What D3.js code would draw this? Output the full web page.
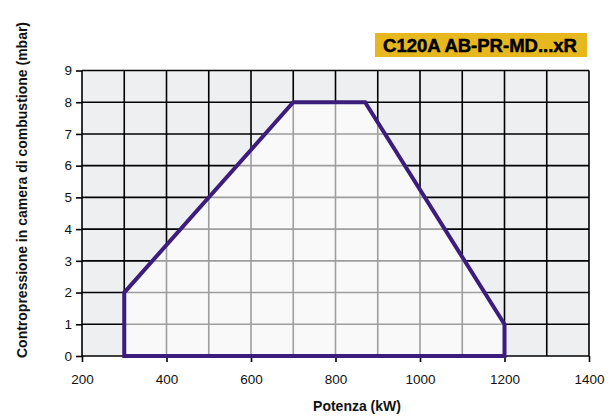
<!DOCTYPE html>
<html><head><meta charset="utf-8">
<script src="https://cdn.jsdelivr.net/npm/d3@7"></script>
<style>body{margin:0;background:#fff}svg{display:block;font-family:"Liberation Sans",Arial,sans-serif}</style>
</head><body><svg id="c" width="613" height="419"></svg>
<script>
const title = "C120A AB-PR-MD...xR";
const xLabel = "Potenza (kW)";
const yLabel = "Contropressione in camera di combustione (mbar)";
const xTicks = [200, 400, 600, 800, 1000, 1200, 1400];
const yTicks = [0, 1, 2, 3, 4, 5, 6, 7, 8, 9];
const xGrid = [200, 300, 400, 500, 600, 700, 800, 900, 1000, 1100, 1200, 1300, 1400];
const powerKW = [300, 300, 700, 870, 1200, 1200];
const pressureMbar = [0, 2, 8, 8, 1, 0];

const svg = d3.select("#c");
const L = 82, R = 589, T = 70.5, B = 356;
const x = d3.scaleLinear().domain([200, 1400]).range([L, R]);
const y = d3.scaleLinear().domain([0, 9]).range([B, T]);

svg.append("rect").attr("x", L).attr("y", T).attr("width", R - L).attr("height", B - T).attr("fill", "#eeeff1");

const g = svg.append("g");
g.selectAll(".vg").data(xGrid).join("line")
  .attr("x1", d => x(d)).attr("x2", d => x(d)).attr("y1", T).attr("y2", B)
  .attr("stroke", "#000").attr("stroke-width", 1.6);
g.selectAll(".hg").data(yTicks).join("line")
  .attr("x1", L).attr("x2", R).attr("y1", d => y(d)).attr("y2", d => y(d))
  .attr("stroke", "#000").attr("stroke-width", 1.6);

const xAxis = d3.axisBottom(x).tickValues(xTicks).tickSize(6).tickPadding(12).tickFormat(d3.format("d"));
const xa = svg.append("g").attr("transform", `translate(0,${B})`).call(xAxis);
xa.select(".domain").remove();
xa.selectAll("line").attr("stroke", "#000").attr("stroke-width", 1.6);
xa.selectAll("text").attr("font-size", 13.5).attr("fill", "#111").attr("font-family", "Liberation Sans, Arial, sans-serif");

const yAxis = d3.axisLeft(y).tickValues(yTicks).tickSize(6).tickPadding(4);
const ya = svg.append("g").attr("transform", `translate(${L},0)`).call(yAxis);
ya.select(".domain").remove();
ya.selectAll("line").attr("stroke", "#000").attr("stroke-width", 1.6);
ya.selectAll("text").attr("font-size", 13.5).attr("fill", "#111").attr("font-family", "Liberation Sans, Arial, sans-serif");

const pts = powerKW.map((p, i) => [x(p), y(pressureMbar[i])]);
svg.append("path").attr("d", d3.line()(pts) + "Z")
  .attr("fill", "#ffffff").attr("fill-opacity", 0.62)
  .attr("stroke", "#3d1d7c").attr("stroke-width", 4).attr("stroke-linejoin", "miter");

svg.append("rect").attr("x", 375).attr("y", 33).attr("width", 212).attr("height", 24).attr("fill", "#e6b81e");
svg.append("text").attr("x", 480).attr("y", 52).attr("text-anchor", "middle")
  .attr("font-size", 18.5).attr("font-weight", "bold").attr("fill", "#000")
  .attr("stroke", "#000").attr("stroke-width", 0.5).text(title);

svg.append("text").attr("x", 357).attr("y", 411).attr("text-anchor", "middle")
  .attr("font-size", 14).attr("font-weight", "bold").attr("fill", "#111").text(xLabel);
svg.append("text").attr("transform", "translate(27,190) rotate(-90)").attr("text-anchor", "middle")
  .attr("font-size", 14).attr("font-weight", "bold").attr("fill", "#111").text(yLabel);
</script></body></html>
